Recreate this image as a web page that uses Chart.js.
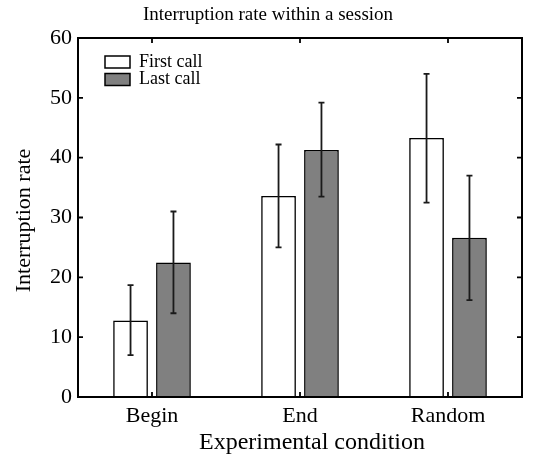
<!DOCTYPE html>
<html><head><meta charset="utf-8">
<script src="https://cdn.jsdelivr.net/npm/chart.js@4"></script>
<style>html,body{margin:0;padding:0;background:#fff}#wrap{width:536px;height:456px}</style>
</head><body><div id="wrap"><canvas id="c" width="536" height="456"></canvas></div>
<script>
const categories = ["Begin", "End", "Random"];
const firstCall = [12.8, 33.6, 43.3];
const firstLow = [7.0, 25.0, 32.5];
const firstHigh = [18.7, 42.2, 54.0];
const lastCall = [22.5, 41.3, 26.6];
const lastLow = [14.0, 33.5, 16.2];
const lastHigh = [31.0, 49.2, 37.0];
const yTicks = [0, 10, 20, 30, 40, 50, 60];
const chartTitle = 'Interruption rate within a session';
const xTitle = 'Experimental condition';
const yTitle = 'Interruption rate';
const FONT = "'Liberation Serif', 'Times New Roman', serif";

const errLow = [firstLow, lastLow];
const errHigh = [firstHigh, lastHigh];

const errorBars = {
  id: 'errorBars',
  afterDatasetsDraw(chart) {
    const ctx = chart.ctx, y = chart.scales.y;
    ctx.save();
    ctx.strokeStyle = '#1a1a1a'; ctx.lineWidth = 1.8;
    chart.data.datasets.forEach((ds, di) => {
      chart.getDatasetMeta(di).data.forEach((bar, i) => {
        const x = bar.x, y1 = y.getPixelForValue(errLow[di][i]), y2 = y.getPixelForValue(errHigh[di][i]);
        ctx.beginPath();
        ctx.moveTo(x, y1); ctx.lineTo(x, y2);
        ctx.moveTo(x - 3, y1); ctx.lineTo(x + 3, y1);
        ctx.moveTo(x - 3, y2); ctx.lineTo(x + 3, y2);
        ctx.stroke();
      });
    });
    ctx.restore();
  }
};

const frame = {
  id: 'frame',
  afterDraw(chart) {
    const ctx = chart.ctx, a = chart.chartArea, y = chart.scales.y, x = chart.scales.x;
    ctx.save();
    ctx.strokeStyle = '#000'; ctx.lineWidth = 1.8;
    ctx.beginPath();
    yTicks.forEach(v => {
      const py = y.getPixelForValue(v);
      ctx.moveTo(a.left, py); ctx.lineTo(a.left + 5, py);
      ctx.moveTo(a.right, py); ctx.lineTo(a.right - 5, py);
    });
    categories.forEach((c, i) => {
      const px = x.getPixelForValue(i);
      ctx.moveTo(px, a.top); ctx.lineTo(px, a.top + 5);
      ctx.moveTo(px, a.bottom); ctx.lineTo(px, a.bottom - 5);
    });
    ctx.stroke();
    ctx.lineWidth = 2;
    ctx.strokeRect(a.left, a.top, a.right - a.left, a.bottom - a.top);
    // legend
    const lx = a.left + 27, ly = a.top + 18;
    chart.data.datasets.forEach((ds, di) => {
      const by = ly + di * 17.5;
      ctx.fillStyle = ds.backgroundColor;
      ctx.fillRect(lx, by, 25, 12);
      ctx.lineWidth = 1.5;
      ctx.strokeRect(lx, by, 25, 12);
      ctx.fillStyle = '#000';
      ctx.font = '18px ' + FONT;
      ctx.textBaseline = 'middle';
      ctx.textAlign = 'left';
      ctx.fillText(ds.label, lx + 34, by + 6);
    });
    // titles
    ctx.fillStyle = '#000';
    ctx.textBaseline = 'alphabetic';
    ctx.textAlign = 'center';
    ctx.font = '19px ' + FONT;
    ctx.fillText(chartTitle, chart.width / 2, 20);
    ctx.font = '24px ' + FONT;
    ctx.fillText(xTitle, (a.left + a.right) / 2 + 12, 449);
    ctx.font = '22px ' + FONT;
    ctx.translate(30, (a.top + a.bottom) / 2 + 3);
    ctx.rotate(-Math.PI / 2);
    ctx.fillText(yTitle, 0, 0);
    ctx.restore();
  }
};

new Chart(document.getElementById('c'), {
  type: 'bar',
  data: {
    labels: categories,
    datasets: [
      { label: 'First call', data: firstCall, backgroundColor: '#ffffff', borderColor: '#000', borderWidth: 1.6, categoryPercentage: 0.58, barPercentage: 0.81 },
      { label: 'Last call', data: lastCall, backgroundColor: '#808080', borderColor: '#000', borderWidth: 1.6, categoryPercentage: 0.58, barPercentage: 0.81 }
    ]
  },
  options: {
    responsive: false, animation: false,
    layout: { padding: { left: 0, right: 14, top: 38, bottom: 0 } },
    plugins: {
      legend: { display: false },
      tooltip: { enabled: false },
      title: { display: false }
    },
    scales: {
      x: {
        grid: { display: false, drawTicks: false }, border: { display: false },
        ticks: { color: '#000', font: { family: FONT, size: 22 }, padding: 6 },
        afterFit(s) { s.height = 59; }
      },
      y: {
        min: 0, max: 60,
        afterBuildTicks(s) { s.ticks = yTicks.map(v => ({ value: v })); },
        grid: { display: false, drawTicks: false }, border: { display: false },
        ticks: { color: '#000', font: { family: FONT, size: 22 }, padding: 6 },
        afterFit(s) { s.width = 78; }
      }
    }
  },
  plugins: [errorBars, frame]
});
</script></body></html>
